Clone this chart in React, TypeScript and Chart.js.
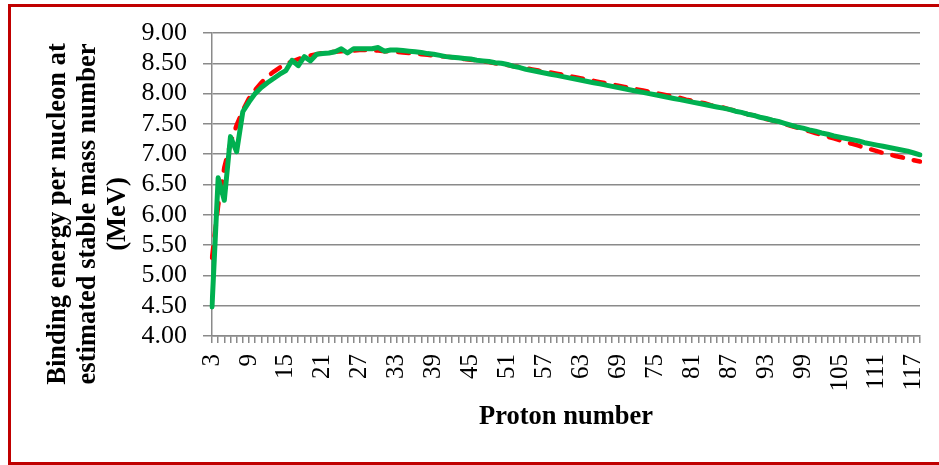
import React, { useEffect, useRef } from "react";
import { Chart, registerables } from "chart.js";

Chart.register(...registerables);

const protonNumbers: number[] = [
  3, 4, 5, 6, 7, 8, 9, 10, 11, 12, 13, 14, 15, 16, 17, 18, 19, 20,
  21, 22, 23, 24, 25, 26, 27, 28, 29, 30, 31, 32, 33, 34, 35, 36, 37, 38, 39, 40,
  41, 42, 43, 44, 45, 46, 47, 48, 49, 50, 51, 52, 53, 54, 55, 56, 57, 58, 59, 60,
  61, 62, 63, 64, 65, 66, 67, 68, 69, 70, 71, 72, 73, 74, 75, 76, 77, 78, 79, 80,
  81, 82, 83, 84, 85, 86, 87, 88, 89, 90, 91, 92, 93, 94, 95, 96, 97, 98, 99, 100,
  101, 102, 103, 104, 105, 106, 107, 108, 109, 110, 111, 112, 113, 114, 115, 116, 117, 118,
];

// green solid series
const bindingGreen: number[] = [
  4.48, 6.61, 6.24, 7.29, 7.04, 7.70, 7.86, 8.00, 8.10, 8.18, 8.25, 8.32, 8.38, 8.55, 8.46, 8.61, 8.54, 8.65,
  8.66, 8.67, 8.69, 8.74, 8.67, 8.74, 8.74, 8.74, 8.74, 8.76, 8.70, 8.72, 8.72, 8.71, 8.70, 8.69, 8.68, 8.66, 8.65, 8.63,
  8.61, 8.60, 8.59, 8.58, 8.57, 8.55, 8.54, 8.53, 8.51, 8.50, 8.48, 8.45, 8.43, 8.40, 8.38, 8.36, 8.34, 8.32, 8.30, 8.28,
  8.26, 8.24, 8.22, 8.20, 8.18, 8.16, 8.14, 8.12, 8.10, 8.08, 8.06, 8.04, 8.02, 8.00, 7.98, 7.96, 7.94, 7.92, 7.90, 7.88,
  7.86, 7.84, 7.82, 7.80, 7.78, 7.76, 7.74, 7.71, 7.69, 7.66, 7.64, 7.61, 7.59, 7.56, 7.54, 7.51, 7.48, 7.45, 7.43, 7.40,
  7.38, 7.35, 7.33, 7.30, 7.28, 7.26, 7.24, 7.22, 7.19, 7.17, 7.15, 7.13, 7.11, 7.09, 7.07, 7.05, 7.02, 6.99,
];

// red dashed series
const bindingRed: number[] = [
  5.29, 6.15, 6.78, 7.18, 7.48, 7.72, 7.92, 8.06, 8.18, 8.28, 8.36, 8.43, 8.49, 8.53, 8.57, 8.60, 8.63, 8.65,
  8.67, 8.68, 8.69, 8.70, 8.71, 8.71, 8.72, 8.72, 8.71, 8.71, 8.70, 8.70, 8.69, 8.68, 8.67, 8.66, 8.65, 8.64, 8.63, 8.62,
  8.61, 8.60, 8.59, 8.57, 8.56, 8.55, 8.53, 8.52, 8.50, 8.49, 8.47, 8.45, 8.44, 8.42, 8.40, 8.38, 8.36, 8.35, 8.33, 8.31,
  8.29, 8.27, 8.25, 8.23, 8.21, 8.19, 8.17, 8.15, 8.13, 8.11, 8.09, 8.07, 8.05, 8.03, 8.01, 7.99, 7.97, 7.95, 7.93, 7.90,
  7.88, 7.86, 7.84, 7.81, 7.79, 7.77, 7.74, 7.72, 7.69, 7.66, 7.64, 7.61, 7.58, 7.56, 7.53, 7.50, 7.47, 7.44, 7.41, 7.38,
  7.35, 7.32, 7.29, 7.26, 7.23, 7.20, 7.17, 7.14, 7.11, 7.08, 7.05, 7.02, 7.00, 6.97, 6.95, 6.92, 6.90, 6.88,
];

const yTitleLines: string[] = [
  "Binding energy per nucleon at",
  "estimated stable mass number",
  "(MeV)",
];
const xTitle = "Proton number";

const FONT = "'Liberation Serif', 'Times New Roman', Times, serif";
const GRID = "#8a8a8a";

const yTitlePlugin = {
  id: "yTitleMulti",
  afterDraw(chart: any) {
    const ctx = chart.ctx as CanvasRenderingContext2D;
    ctx.save();
    ctx.fillStyle = "#000";
    ctx.font = `bold 26.5px ${FONT}`;
    ctx.textAlign = "center";
    ctx.textBaseline = "middle";
    yTitleLines.forEach((line, i) => {
      ctx.save();
      ctx.translate(58 + i * 30, 214);
      ctx.rotate(-Math.PI / 2);
      ctx.fillText(line, 0, 0);
      ctx.restore();
    });
    ctx.restore();
  },
};

export default function App() {
  const ref = useRef<HTMLCanvasElement | null>(null);

  useEffect(() => {
    if (!ref.current) return;
    const chart = new Chart(ref.current, {
      type: "line",
      data: {
        labels: protonNumbers.map(String),
        datasets: [
          {
            label: "Red",
            data: bindingRed,
            borderColor: "#ff0000",
            borderWidth: 4.5,
            borderDash: [11, 11],
            borderCapStyle: "round",
            pointRadius: 0,
            tension: 0,
            fill: false,
            order: 2,
          },
          {
            label: "Green",
            data: bindingGreen,
            borderColor: "#00b050",
            borderWidth: 5,
            borderCapStyle: "round",
            borderJoinStyle: "round",
            pointRadius: 0,
            tension: 0,
            fill: false,
            order: 1,
          },
        ],
      },
      options: {
        responsive: false,
        animation: false,
        devicePixelRatio: 1,
        layout: { padding: { left: 0, top: 33, right: 19, bottom: 0 } },
        plugins: {
          legend: { display: false },
          tooltip: { enabled: false },
          title: { display: false },
        },
        scales: {
          x: {
            type: "category",
            offset: false,
            grid: {
              drawOnChartArea: false,
              drawTicks: true,
              tickLength: 7,
              color: GRID,
              lineWidth: 1.5,
            },
            border: { display: true, color: GRID, width: 1.5 },
            ticks: {
              autoSkip: false,
              maxRotation: 90,
              minRotation: 90,
              padding: 11,
              color: "#000",
              font: { family: FONT, size: 25 },
              callback: (_v: any, i: number) =>
                (protonNumbers[i] - 3) % 6 === 0 ? String(protonNumbers[i]) : "",
            },
            title: {
              display: true,
              text: xTitle,
              color: "#000",
              font: { family: FONT, size: 26.5, weight: "bold", lineHeight: 1.15 },
              padding: { top: 0, bottom: 33 },
            },
            afterFit: (scale: any) => {
              scale.height = 129;
              scale.paddingLeft = 0;
              scale.paddingRight = 0;
            },
          },
          y: {
            min: 4,
            max: 9,
            grid: {
              drawTicks: true,
              tickLength: 9,
              color: GRID,
              lineWidth: 1.5,
            },
            border: { display: true, color: GRID, width: 1.5 },
            ticks: {
              stepSize: 0.5,
              autoSkip: false,
              padding: 16,
              color: "#000",
              font: { family: FONT, size: 26 },
              callback: (v: any) => Number(v).toFixed(2),
            },
            title: { display: false },
            afterFit: (scale: any) => {
              scale.width = 212;
              scale.paddingTop = 0;
              scale.paddingBottom = 0;
            },
          },
        },
      },
      plugins: [yTitlePlugin],
    } as any);
    return () => chart.destroy();
  }, []);

  return (
    <div
      style={{
        position: "absolute",
        left: 0,
        top: 0,
        width: 939,
        height: 465,
        overflow: "hidden",
        background: "#fff",
      }}
    >
      <canvas
        ref={ref}
        width={939}
        height={465}
        style={{ position: "absolute", left: 0, top: 0, width: 939, height: 465 }}
      />
      <div
        style={{
          position: "absolute",
          left: 8,
          top: 4,
          width: 945,
          height: 461,
          boxSizing: "border-box",
          border: "3px solid #c00000",
          pointerEvents: "none",
        }}
      />
    </div>
  );
}
